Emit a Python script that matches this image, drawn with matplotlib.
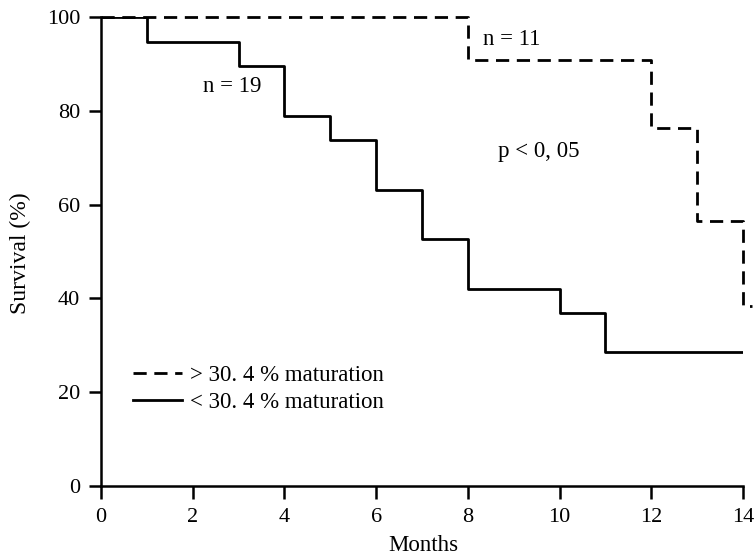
import matplotlib
matplotlib.use("Agg")
import matplotlib.pyplot as plt

plt.rcParams['font.family'] = ['Liberation Serif', 'DejaVu Serif']
plt.rcParams['lines.scale_dashes'] = False

# Kaplan-Meier steps (months, survival %)
low_t = [0, 1, 3, 4, 5, 6, 7, 8, 10, 11, 14]
low_s = [100, 94.7, 89.5, 78.9, 73.7, 63.2, 52.6, 42.1, 36.8, 28.5, 28.5]
high_t = [0, 8, 12, 13, 14, 14.2]
high_s = [100, 90.9, 76.3, 56.6, 38.4, 38.4]

xticks = [0, 2, 4, 6, 8, 10, 12, 14]
yticks = [0, 20, 40, 60, 80, 100]

fig = plt.figure(figsize=(7.54, 5.57), dpi=100)
ax = fig.add_axes([0.134, 0.1275, 0.8514, 0.842])

ax.step(high_t, high_s, where='post', color='black', lw=2.0,
        linestyle=(0, (9.5, 5.5)), label='> 30. 4 % maturation', clip_on=False)
ax.step(low_t, low_s, where='post', color='black', lw=2.0,
        label='< 30. 4 % maturation')

ax.set_xlim(0, 14)
ax.set_ylim(0, 100)
ax.set_xticks(xticks)
ax.set_yticks(yticks)
for s in ['top', 'right']:
    ax.spines[s].set_visible(False)
for s in ['left', 'bottom']:
    ax.spines[s].set_linewidth(1.8)
ax.tick_params(direction='out', length=9, width=1.8, labelsize=16)
ax.tick_params(axis='x', pad=7)
ax.tick_params(axis='y', pad=6)

ax.set_xlabel('Months', fontsize=16.5)
ax.set_ylabel('Survival (%)', fontsize=17)
ax.xaxis.set_label_coords(0.502, -0.126)
ax.yaxis.set_label_coords(-0.126, 0.497)
ax.xaxis.label.set_va('center')
ax.yaxis.label.set_va('center')

ax.text(8.33, 95.1, 'n = 11', fontsize=16.5, va='center')
ax.text(2.22, 85.1, 'n = 19', fontsize=16.5, va='center')
ax.text(8.66, 71.4, 'p < 0, 05', fontsize=16.5, va='center')

ax.legend(loc='upper left', bbox_to_anchor=(0.05, 0.257), frameon=False,
          fontsize=16.5, handlelength=2.14, handletextpad=0.35,
          labelspacing=0.22, borderpad=0, borderaxespad=0)

fig.savefig('out.png', dpi=100)
